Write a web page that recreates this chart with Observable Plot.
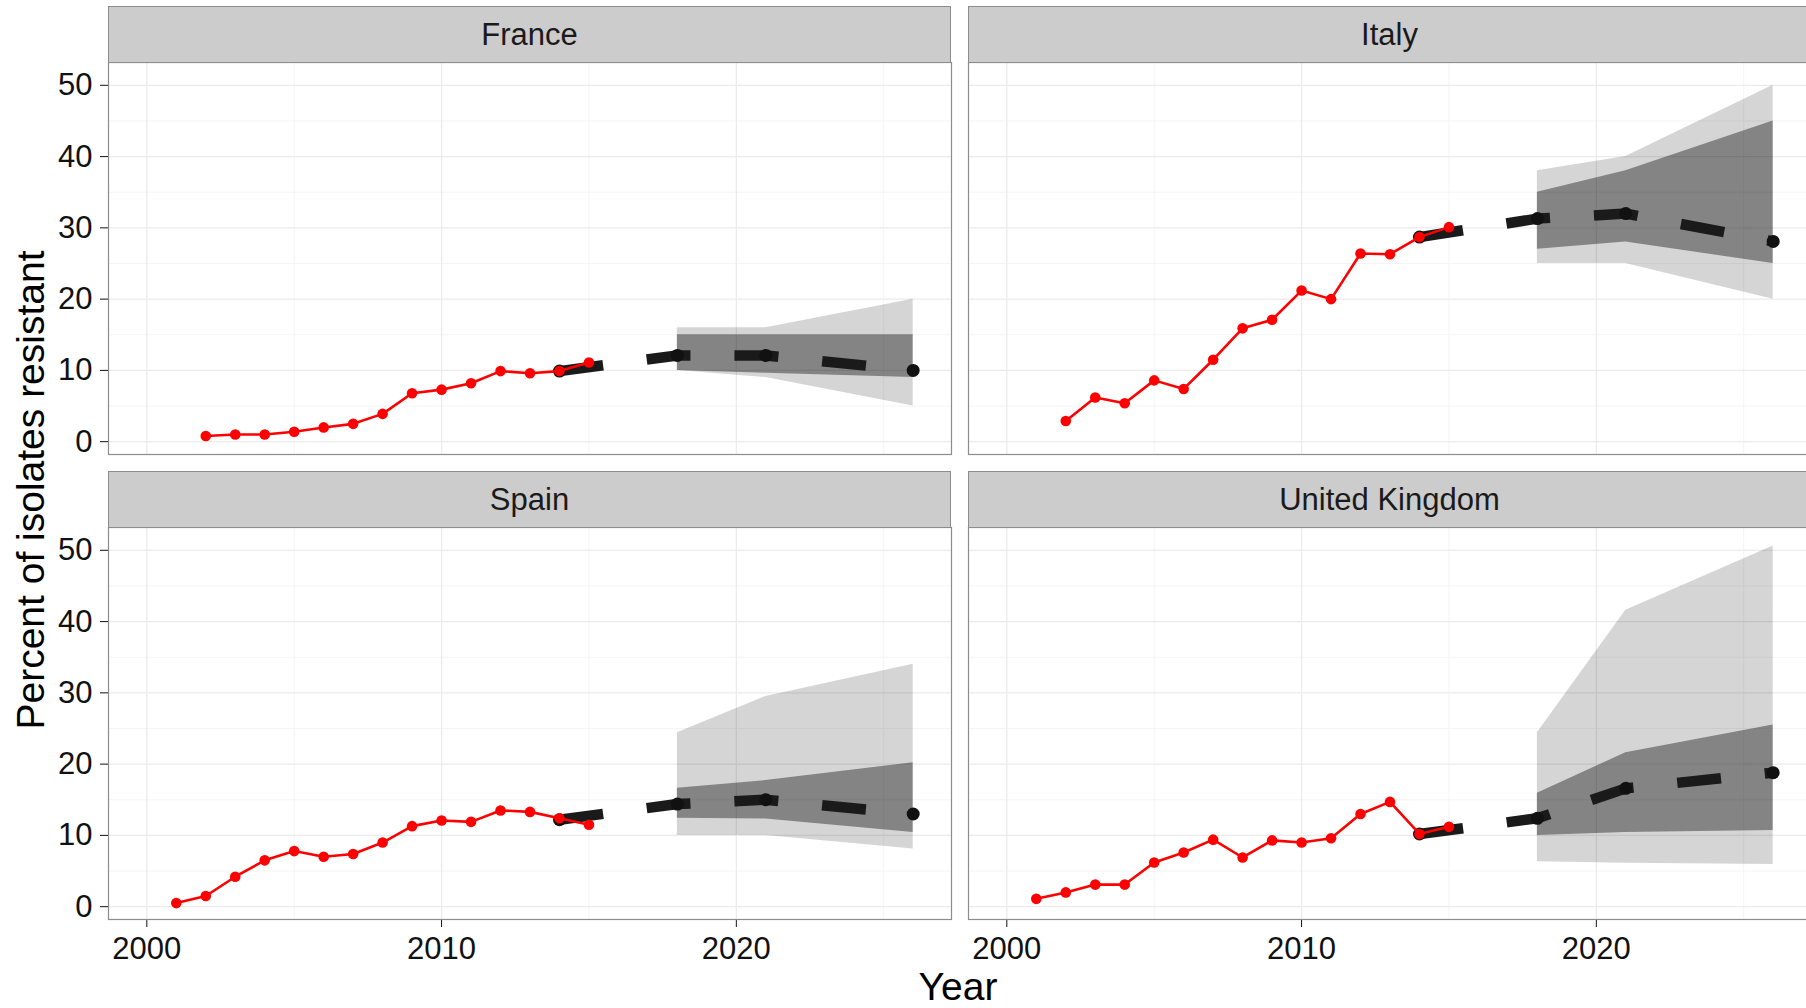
<!DOCTYPE html>
<html>
<head>
<meta charset="utf-8">
<script src="https://cdn.jsdelivr.net/npm/d3@7"></script>
<script src="https://cdn.jsdelivr.net/npm/@observablehq/plot@0.6"></script>
<style>
  html, body { margin: 0; padding: 0; background: #ffffff; overflow: hidden; }
  #chart {
    position: relative; width: 1806px; height: 1008px; overflow: hidden;
    font-family: "Liberation Sans", Arial, sans-serif; background: #ffffff;
  }
  .panel { position: absolute; }
  .strip {
    position: absolute; box-sizing: border-box; background: #cccccc;
    border: 1px solid #8c8c8c; color: #1a1a1a; font-size: 31px;
    line-height: 55px; text-align: center; white-space: nowrap;
  }
  .axis-title { position: absolute; font-size: 39px; line-height: 39px; color: #000; white-space: nowrap; }
</style>
</head>
<body>
<div id="chart"></div>
<script>
// Observed resistance, percent of isolates
const yearsFrance = [2002, 2003, 2004, 2005, 2006, 2007, 2008, 2009, 2010, 2011, 2012, 2013, 2014, 2015];
const observedFrance = [0.8, 1.0, 1.0, 1.4, 2.0, 2.5, 3.9, 6.8, 7.3, 8.2, 9.9, 9.6, 9.9, 11.1];

const yearsItaly = [2002, 2003, 2004, 2005, 2006, 2007, 2008, 2009, 2010, 2011, 2012, 2013, 2014, 2015];
const observedItaly = [2.9, 6.2, 5.4, 8.6, 7.4, 11.5, 15.9, 17.1, 21.2, 20.0, 26.4, 26.3, 28.7, 30.1];

const yearsSpain = [2001, 2002, 2003, 2004, 2005, 2006, 2007, 2008, 2009, 2010, 2011, 2012, 2013, 2014, 2015];
const observedSpain = [0.5, 1.5, 4.2, 6.5, 7.8, 7.0, 7.4, 9.0, 11.3, 12.1, 11.9, 13.5, 13.3, 12.4, 11.5];

const yearsUK = [2001, 2002, 2003, 2004, 2005, 2006, 2007, 2008, 2009, 2010, 2011, 2012, 2013, 2014, 2015];
const observedUK = [1.1, 2.0, 3.1, 3.1, 6.2, 7.6, 9.4, 6.9, 9.3, 9.0, 9.6, 13.0, 14.7, 10.2, 11.2];

// Forecast: central estimate
const forecastYears = [2014, 2018, 2021, 2026];
const forecastFrance = [9.9, 12.1, 12.1, 10.0];
const forecastItaly = [28.7, 31.3, 32.0, 28.1];
const forecastSpain = [12.2, 14.4, 15.0, 13.0];
const forecastUK = [10.2, 12.4, 16.6, 18.8];

// Forecast uncertainty bands (outer = wide interval, inner = narrow interval)
const bandYears = [2018, 2021, 2026];
const outerLowFrance = [10.0, 9.0, 5.0];
const outerHighFrance = [16.0, 16.0, 20.0];
const innerLowFrance = [10.0, 9.6, 9.0];
const innerHighFrance = [15.0, 15.0, 15.0];

const outerLowItaly = [25.0, 25.0, 20.0];
const outerHighItaly = [38.0, 40.0, 50.0];
const innerLowItaly = [27.0, 28.0, 25.0];
const innerHighItaly = [35.0, 38.0, 45.0];

const outerLowSpain = [10.0, 10.0, 8.1];
const outerHighSpain = [24.4, 29.5, 34.0];
const innerLowSpain = [12.4, 12.3, 10.4];
const innerHighSpain = [16.6, 17.7, 20.2];

const outerLowUK = [6.3, 6.1, 5.9];
const outerHighUK = [24.4, 41.6, 50.6];
const innerLowUK = [10.0, 10.4, 10.7];
const innerHighUK = [15.9, 21.6, 25.5];

// Axis ticks and grid
const yMajor = [0, 10, 20, 30, 40, 50];
const yMinor = [5, 15, 25, 35, 45];
const xMajor = [2000, 2010, 2020];
const xMinor = [2005, 2015, 2025];

const countries = ["France", "Italy", "Spain", "United Kingdom"];

const panels = [
  {name: countries[0], years: yearsFrance, obs: observedFrance, fc: forecastFrance,
   oLo: outerLowFrance, oHi: outerHighFrance, iLo: innerLowFrance, iHi: innerHighFrance},
  {name: countries[1], years: yearsItaly, obs: observedItaly, fc: forecastItaly,
   oLo: outerLowItaly, oHi: outerHighItaly, iLo: innerLowItaly, iHi: innerHighItaly},
  {name: countries[2], years: yearsSpain, obs: observedSpain, fc: forecastSpain,
   oLo: outerLowSpain, oHi: outerHighSpain, iLo: innerLowSpain, iHi: innerHighSpain},
  {name: countries[3], years: yearsUK, obs: observedUK, fc: forecastUK,
   oLo: outerLowUK, oHi: outerHighUK, iLo: innerLowUK, iHi: innerHighUK}
];

const chart = document.getElementById("chart");

// Facet grid geometry
const colLeft = [108, 968];
const rowTop = [62, 527];
const panelW = 843;
const panelH = 392;
const stripH = 56;

panels.forEach((p, i) => {
  const col = i % 2;
  const row = Math.floor(i / 2);
  const observed = p.years.map((year, k) => ({year, value: p.obs[k]}));
  const forecast = forecastYears.map((year, k) => ({year, value: p.fc[k]}));
  const bands = bandYears.map((year, k) => ({
    year, oLo: p.oLo[k], oHi: p.oHi[k], iLo: p.iLo[k], iHi: p.iHi[k]
  }));

  const mL = col === 0 ? 108 : 0;
  const mB = row === 1 ? 60 : 0;

  const svg = Plot.plot({
    width: mL + panelW,
    height: panelH + mB,
    marginLeft: mL,
    marginRight: 0,
    marginTop: 0,
    marginBottom: mB,
    style: {
      fontFamily: '"Liberation Sans", Arial, sans-serif',
      fontSize: "31px",
      color: "#111",
      background: "transparent",
      overflow: "visible"
    },
    x: {
      domain: [1998.7, 2027.3],
      axis: row === 1 ? "bottom" : null,
      ticks: xMajor,
      tickFormat: d => String(d),
      tickSize: 8,
      tickPadding: 9,
      label: null
    },
    y: {
      domain: [-1.8, 53.2],
      axis: col === 0 ? "left" : null,
      ticks: yMajor,
      tickSize: 8,
      tickPadding: 8,
      label: null
    },
    marks: [
      Plot.ruleY(yMinor, {stroke: "#f4f4f4", strokeWidth: 1}),
      Plot.ruleX(xMinor, {stroke: "#f4f4f4", strokeWidth: 1}),
      Plot.ruleY(yMajor, {stroke: "#ebebeb", strokeWidth: 1.3}),
      Plot.ruleX(xMajor, {stroke: "#ebebeb", strokeWidth: 1.3}),
      Plot.areaY(bands, {x: "year", y1: "oLo", y2: "oHi", fill: "#000", fillOpacity: 0.165, curve: "linear"}),
      Plot.areaY(bands, {x: "year", y1: "iLo", y2: "iHi", fill: "#000", fillOpacity: 0.38, curve: "linear"}),
      Plot.line(forecast, {x: "year", y: "value", stroke: "#1a1a1a", strokeWidth: 10.5,
        strokeDasharray: "44,44", strokeLinecap: "butt", strokeLinejoin: "round"}),
      Plot.dot(forecast, {x: "year", y: "value", r: 6.5, fill: "#111", stroke: "none"}),
      Plot.line(observed, {x: "year", y: "value", stroke: "#ff0000", strokeWidth: 2.6}),
      Plot.dot(observed, {x: "year", y: "value", r: 5.3, fill: "#ff0000", stroke: "none"}),
      Plot.frame({stroke: "#8c8c8c", strokeWidth: 1.2})
    ]
  });
  svg.classList.add("panel");
  svg.style.left = (colLeft[col] - mL) + "px";
  svg.style.top = rowTop[row] + "px";
  chart.appendChild(svg);

  const strip = document.createElement("div");
  strip.className = "strip";
  strip.textContent = p.name;
  strip.style.left = colLeft[col] + "px";
  strip.style.top = (rowTop[row] - stripH) + "px";
  strip.style.width = panelW + "px";
  strip.style.height = (stripH + 1) + "px";
  chart.appendChild(strip);
});

// Shared axis titles
const xTitle = document.createElement("div");
xTitle.className = "axis-title";
xTitle.textContent = "Year";
xTitle.style.left = "958px";
xTitle.style.top = "967px";
xTitle.style.transform = "translateX(-50%)";
chart.appendChild(xTitle);

const yTitle = document.createElement("div");
yTitle.className = "axis-title";
yTitle.textContent = "Percent of isolates resistant";
yTitle.style.left = "29.5px";
yTitle.style.top = "490px";
yTitle.style.transform = "translate(-50%, -50%) rotate(-90deg)";
chart.appendChild(yTitle);
</script>
</body>
</html>
